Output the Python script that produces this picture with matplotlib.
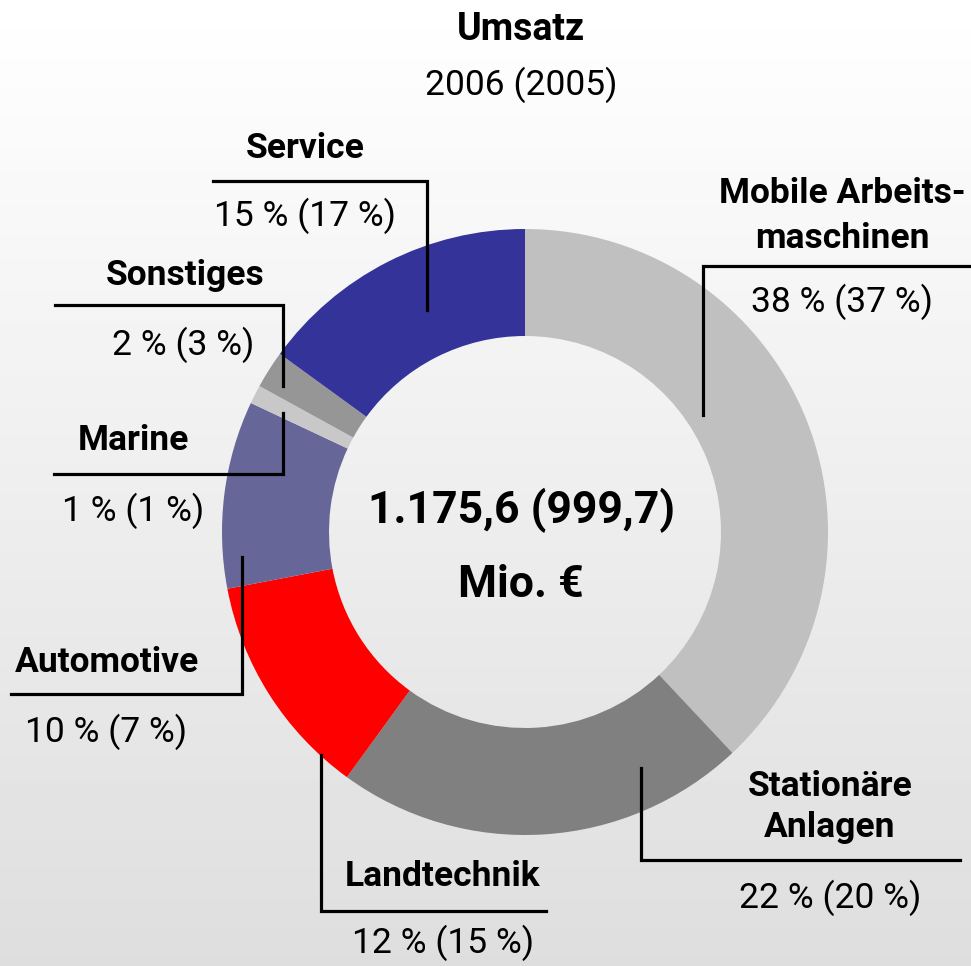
import numpy as np
import matplotlib
matplotlib.use("Agg")
import matplotlib.pyplot as plt

plt.rcParams['font.family'] = ['Roboto', 'DejaVu Sans']

# data (clockwise from top)
segments = ['Mobile Arbeits-\nmaschinen', 'Stationäre\nAnlagen', 'Landtechnik', 'Automotive',
            'Marine', 'Sonstiges', 'Service']
share_2006 = [38, 22, 12, 10, 1, 2, 15]
share_2005 = [37, 20, 15, 7, 1, 3, 17]
colors = ['#c0c0c0', '#808080', '#ff0000', '#666699', '#c8c8c8', '#969696', '#333399']
total_2006 = '1.175,6'
total_2005 = '999,7'

W, H = 971, 966

# layout in pixel coords (y measured from top)
name_pos = [(842, 216), (830, 807), (443, 877), (107, 662), (133, 441), (185, 276), (305, 148)]
pct_pos = [(842, 302), (830, 898), (443, 943), (106, 732), (133, 511), (183, 345), (305, 216)]
line_gap = [1.45, 1.3, 1.1, 1.1, 1.1, 1.1, 1.1]
leaders = [
    [(703, 415), (703, 266), (971, 266)],
    [(641, 768), (641, 860), (960, 860)],
    [(321, 755), (321, 911), (546, 911)],
    [(242, 557), (242, 694), (11, 694)],
    [(283, 413), (283, 474), (54, 474)],
    [(283, 386), (283, 305), (55, 305)],
    [(427, 310), (427, 181), (213, 181)],
]

fig = plt.figure(figsize=(W / 100, H / 100), dpi=100)
ax = fig.add_axes([0, 0, 1, 1])

# background gradient white -> light gray
grad = np.linspace(0.87, 1.0, 256).reshape(-1, 1)
ax.imshow(grad, extent=[0, W, 0, H], cmap='gray', vmin=0, vmax=1, aspect='auto', origin='lower', zorder=0)

ax.pie(share_2006, colors=colors, startangle=90, counterclock=False,
       center=(525, H - 532), radius=303,
       wedgeprops=dict(width=107, linewidth=0), frame=True)

ax.set_xlim(0, W)
ax.set_ylim(0, H)
ax.set_aspect('auto')
ax.axis('off')

fs = 25.5
for name, p6, p5, (nx, ny), (px, py), ls, pts in zip(segments, share_2006, share_2005,
                                                      name_pos, pct_pos, line_gap, leaders):
    ax.text(nx, H - ny, name, ha='center', va='center', fontsize=fs, fontweight='bold',
            linespacing=ls, zorder=5)
    ax.text(px, H - py, f'{p6} % ({p5} %)', ha='center', va='center', fontsize=fs, zorder=5)
    xs = [p[0] for p in pts]
    ys = [H - p[1] for p in pts]
    ax.plot(xs, ys, color='black', lw=2.3, solid_joinstyle='miter', zorder=4)

ax.text(521, H - 30, 'Umsatz', ha='center', va='center', fontsize=27, fontweight='bold')
ax.text(521, H - 85, '2006 (2005)', ha='center', va='center', fontsize=fs)

ax.text(521, H - 510, f'{total_2006} ({total_2005})', ha='center', va='center', fontsize=32, fontweight='bold')
ax.text(521, H - 585, 'Mio. €', ha='center', va='center', fontsize=32, fontweight='bold')

fig.savefig('out.png', dpi=100)
